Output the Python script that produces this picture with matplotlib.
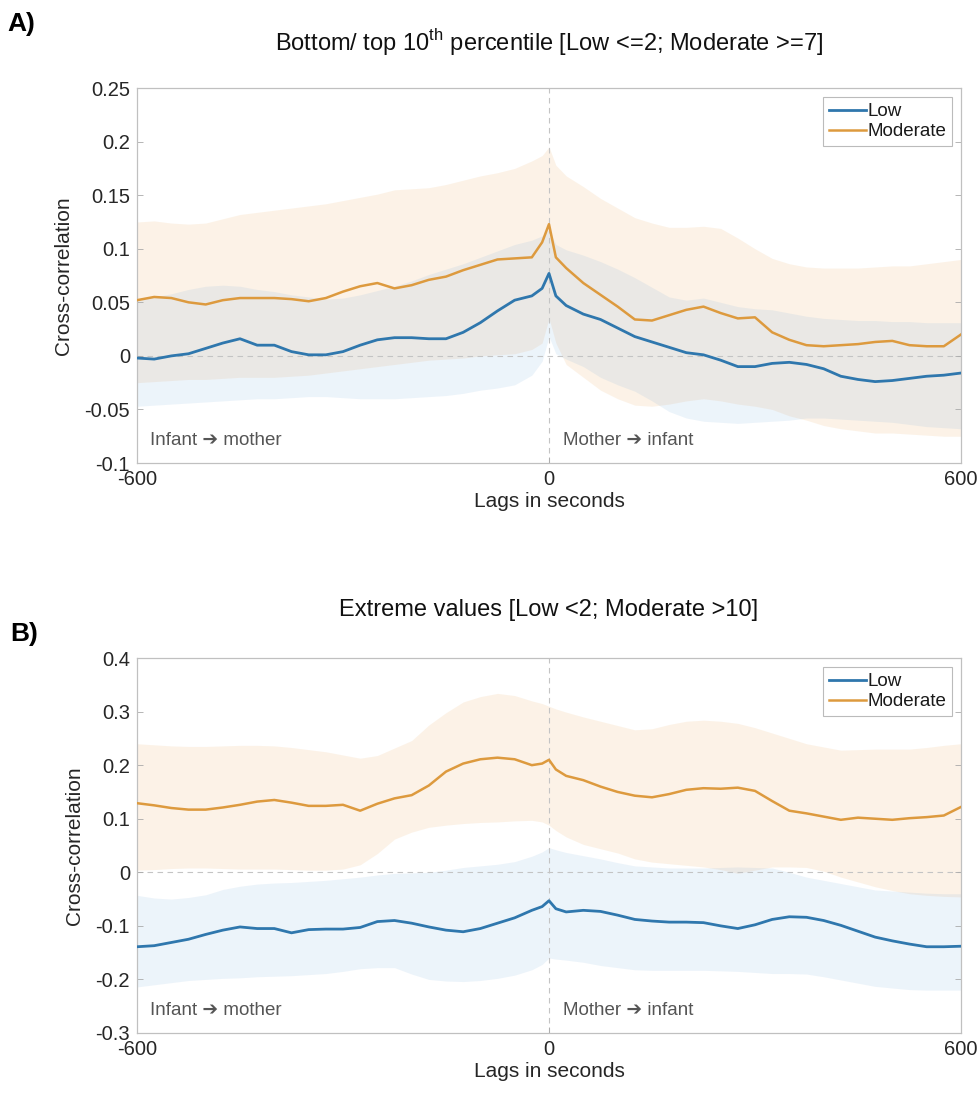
import matplotlib
matplotlib.use("Agg")
import matplotlib.pyplot as plt
import numpy as np

plt.rcParams['font.family'] = ['Liberation Sans', 'DejaVu Sans']
plt.rcParams['mathtext.fontset'] = 'custom'
plt.rcParams['mathtext.rm'] = 'Liberation Sans'

# ---------------- data ----------------
lags = [-600, -575, -550, -525, -500, -475, -450, -425, -400, -375, -350, -325, -300,
        -275, -250, -225, -200, -175, -150, -125, -100, -75, -50, -25, -10, 0, 10, 25,
        50, 75, 100, 125, 150, 175, 200, 225, 250, 275, 300, 325, 350, 375, 400, 425,
        450, 475, 500, 525, 550, 575, 600]

# Panel A
a_low_mean = [-0.002, -0.003, 0.000, 0.002, 0.007, 0.012, 0.016, 0.010, 0.010, 0.004, 0.001,
              0.001, 0.004, 0.010, 0.015, 0.017, 0.017, 0.016, 0.016, 0.022, 0.031, 0.042,
              0.052, 0.056, 0.063, 0.077, 0.056, 0.047, 0.039, 0.034, 0.026, 0.018, 0.013,
              0.008, 0.003, 0.001, -0.004, -0.010, -0.010, -0.007, -0.006, -0.008, -0.012,
              -0.019, -0.022, -0.024, -0.023, -0.021, -0.019, -0.018, -0.016]
a_low_hi = [0.052, 0.055, 0.058, 0.062, 0.065, 0.066, 0.065, 0.062, 0.060, 0.057, 0.055, 0.053,
            0.054, 0.057, 0.061, 0.065, 0.070, 0.076, 0.081, 0.086, 0.092, 0.098, 0.104, 0.108,
            0.112, 0.118, 0.104, 0.099, 0.094, 0.088, 0.081, 0.073, 0.064, 0.055, 0.052, 0.054,
            0.050, 0.046, 0.044, 0.043, 0.040, 0.037, 0.035, 0.034, 0.033, 0.033, 0.032, 0.032,
            0.031, 0.031, 0.031]
a_low_lo = [-0.047, -0.046, -0.045, -0.044, -0.043, -0.042, -0.041, -0.040, -0.040, -0.039,
            -0.038, -0.038, -0.039, -0.040, -0.040, -0.040, -0.039, -0.038, -0.037, -0.035,
            -0.032, -0.030, -0.027, -0.018, -0.005, 0.018, 0.002, -0.003, -0.010, -0.020,
            -0.027, -0.033, -0.042, -0.052, -0.058, -0.061, -0.062, -0.063, -0.062, -0.061,
            -0.060, -0.058, -0.058, -0.059, -0.060, -0.061, -0.062, -0.064, -0.066, -0.067,
            -0.068]
a_mod_mean = [0.052, 0.055, 0.054, 0.050, 0.048, 0.052, 0.054, 0.054, 0.054, 0.053, 0.051,
              0.054, 0.060, 0.065, 0.068, 0.063, 0.066, 0.071, 0.074, 0.080, 0.085, 0.090,
              0.091, 0.092, 0.106, 0.123, 0.092, 0.082, 0.068, 0.057, 0.046, 0.034, 0.033,
              0.038, 0.043, 0.046, 0.040, 0.035, 0.036, 0.022, 0.015, 0.010, 0.009, 0.010,
              0.011, 0.013, 0.014, 0.010, 0.009, 0.009, 0.020]
a_mod_hi = [0.125, 0.126, 0.124, 0.123, 0.124, 0.128, 0.132, 0.134, 0.136, 0.138, 0.140, 0.142,
            0.145, 0.148, 0.151, 0.155, 0.156, 0.157, 0.160, 0.164, 0.168, 0.171, 0.175, 0.182,
            0.187, 0.195, 0.178, 0.168, 0.158, 0.147, 0.138, 0.129, 0.124, 0.120, 0.120, 0.121,
            0.119, 0.110, 0.100, 0.091, 0.086, 0.083, 0.082, 0.082, 0.082, 0.083, 0.084, 0.084,
            0.086, 0.088, 0.090]
a_mod_lo = [-0.025, -0.024, -0.023, -0.022, -0.022, -0.021, -0.020, -0.020, -0.020, -0.019,
            -0.018, -0.016, -0.014, -0.012, -0.010, -0.008, -0.006, -0.004, -0.003, -0.002,
            0.000, 0.001, 0.002, 0.006, 0.012, 0.035, 0.012, -0.008, -0.020, -0.032, -0.040,
            -0.046, -0.047, -0.045, -0.042, -0.040, -0.042, -0.045, -0.047, -0.050, -0.056,
            -0.060, -0.065, -0.068, -0.070, -0.072, -0.072, -0.073, -0.074, -0.075, -0.075]

# Panel B
b_low_mean = [-0.139, -0.137, -0.131, -0.125, -0.116, -0.108, -0.102, -0.105, -0.105, -0.113,
              -0.107, -0.106, -0.106, -0.103, -0.092, -0.090, -0.095, -0.102, -0.108, -0.111,
              -0.105, -0.095, -0.085, -0.071, -0.064, -0.053, -0.068, -0.074, -0.071, -0.073,
              -0.080, -0.088, -0.091, -0.093, -0.093, -0.094, -0.100, -0.105, -0.098, -0.088,
              -0.083, -0.084, -0.090, -0.099, -0.110, -0.121, -0.128, -0.134, -0.139, -0.139,
              -0.138]
b_low_hi = [-0.043, -0.048, -0.050, -0.047, -0.042, -0.032, -0.026, -0.022, -0.020, -0.019,
            -0.017, -0.015, -0.012, -0.009, -0.005, -0.002, -0.001, 0.000, 0.004, 0.009, 0.012,
            0.015, 0.020, 0.030, 0.038, 0.046, 0.042, 0.037, 0.031, 0.025, 0.018, 0.012, 0.010,
            0.008, 0.008, 0.008, 0.009, 0.010, 0.009, 0.008, 0.000, -0.009, -0.015, -0.021,
            -0.027, -0.033, -0.035, -0.037, -0.039, -0.040, -0.040]
b_low_lo = [-0.214, -0.210, -0.206, -0.202, -0.200, -0.198, -0.197, -0.195, -0.194, -0.193,
            -0.191, -0.189, -0.185, -0.180, -0.178, -0.178, -0.190, -0.200, -0.203, -0.204,
            -0.202, -0.198, -0.192, -0.182, -0.172, -0.160, -0.162, -0.164, -0.168, -0.174,
            -0.178, -0.182, -0.183, -0.183, -0.183, -0.183, -0.184, -0.185, -0.187, -0.189,
            -0.189, -0.190, -0.195, -0.201, -0.207, -0.213, -0.216, -0.219, -0.220, -0.220,
            -0.220]
b_mod_mean = [0.129, 0.125, 0.120, 0.117, 0.117, 0.121, 0.126, 0.132, 0.135, 0.130, 0.124,
              0.124, 0.126, 0.115, 0.128, 0.138, 0.144, 0.162, 0.188, 0.203, 0.211, 0.214,
              0.211, 0.200, 0.203, 0.210, 0.192, 0.180, 0.172, 0.160, 0.150, 0.143, 0.140,
              0.146, 0.154, 0.157, 0.156, 0.158, 0.152, 0.133, 0.115, 0.110, 0.104, 0.098,
              0.102, 0.100, 0.098, 0.101, 0.103, 0.106, 0.122]
b_mod_hi = [0.240, 0.238, 0.236, 0.235, 0.235, 0.236, 0.237, 0.237, 0.236, 0.233, 0.229, 0.225,
            0.219, 0.213, 0.218, 0.232, 0.246, 0.275, 0.298, 0.318, 0.328, 0.334, 0.330, 0.320,
            0.315, 0.310, 0.305, 0.299, 0.290, 0.282, 0.274, 0.266, 0.268, 0.276, 0.282, 0.284,
            0.282, 0.278, 0.270, 0.260, 0.250, 0.240, 0.234, 0.228, 0.229, 0.230, 0.230, 0.230,
            0.233, 0.237, 0.240]
b_mod_lo = [0.004, 0.005, 0.007, 0.008, 0.008, 0.007, 0.006, 0.006, 0.006, 0.005, 0.004, 0.004,
            0.006, 0.014, 0.035, 0.062, 0.075, 0.084, 0.088, 0.091, 0.093, 0.094, 0.096, 0.097,
            0.094, 0.088, 0.078, 0.066, 0.052, 0.044, 0.036, 0.025, 0.019, 0.016, 0.013, 0.010,
            0.005, -0.002, 0.004, 0.010, 0.010, 0.009, 0.002, -0.009, -0.018, -0.027, -0.034,
            -0.040, -0.043, -0.045, -0.046]

series_names = ["Low", "Moderate"]
titles = ["Bottom/ top 10$^{\\mathrm{th}}$ percentile [Low <=2; Moderate >=7]",
          "Extreme values [Low <2; Moderate >10]"]
panel_labels = ["A)", "B)"]
ylims = [(-0.1, 0.25), (-0.3, 0.4)]
yticks = [[-0.1, -0.05, 0, 0.05, 0.1, 0.15, 0.2, 0.25],
          [-0.3, -0.2, -0.1, 0, 0.1, 0.2, 0.3, 0.4]]
ytick_labels = [["-0.1", "-0.05", "0", "0.05", "0.1", "0.15", "0.2", "0.25"],
                ["-0.3", "-0.2", "-0.1", "0", "0.1", "0.2", "0.3", "0.4"]]
xticks = [-600, 0, 600]
xtick_labels = ["-600", "0", "600"]
direction_labels = ["Infant \u2794 mother", "Mother \u2794 infant"]

panels = [
    (a_low_mean, a_low_lo, a_low_hi, a_mod_mean, a_mod_lo, a_mod_hi),
    (b_low_mean, b_low_lo, b_low_hi, b_mod_mean, b_mod_lo, b_mod_hi),
]

# ---------------- style ----------------
blue_line = '#2f77ad'
orange_line = '#dd9a3e'
blue_fill = '#6aa6da'
orange_fill = '#eaa85a'
text_gray = '#262626'
spine_gray = '#c0c0c0'

fig = plt.figure(figsize=(9.8, 10.98), dpi=100)
axes_pos = [[0.1398, 0.5783, 0.8408, 0.3415], [0.1398, 0.0592, 0.8408, 0.3415]]
label_pos = [(0.008, 0.978), (0.010, 0.423)]
title_pads = [27, 30]

x = np.array(lags)
for i, (lm, ll, lh, mm, ml, mh) in enumerate(panels):
    ax = fig.add_axes(axes_pos[i])
    ax.fill_between(x, ml, mh, color=orange_fill, alpha=0.14, linewidth=0)
    ax.fill_between(x, ll, lh, color=blue_fill, alpha=0.12, linewidth=0)
    ax.axhline(0, color='#c4c4c4', lw=0.8, ls=(0, (5, 4)), zorder=1)
    ax.axvline(0, color='#c4c4c4', lw=0.8, ls=(0, (5, 4)), zorder=1)
    ax.plot(x, lm, color=blue_line, lw=2.0, label=series_names[0], zorder=3)
    ax.plot(x, mm, color=orange_line, lw=1.8, label=series_names[1], zorder=3)
    ax.set_xlim(-600, 600)
    ax.set_ylim(*ylims[i])
    ax.set_xticks(xticks)
    ax.set_xticklabels(xtick_labels)
    ax.set_yticks(yticks[i])
    ax.set_yticklabels(ytick_labels[i])
    ax.tick_params(direction='in', length=4, width=0.6, color='#aaaaaa',
                   labelsize=14.5, labelcolor=text_gray, top=False, right=True, pad=5)
    for s in ax.spines.values():
        s.set_color(spine_gray)
        s.set_linewidth(0.9)
    ax.set_xlabel("Lags in seconds", fontsize=15, color=text_gray, labelpad=2)
    ax.set_ylabel("Cross-correlation", fontsize=15, color=text_gray, labelpad=8)
    ax.set_title(titles[i], fontsize=17, color='#111111', pad=title_pads[i])
    ax.text(0.016, 0.06, direction_labels[0], transform=ax.transAxes, fontsize=13.5,
            color='#555555', ha='left', va='center')
    ax.text(0.517, 0.06, direction_labels[1], transform=ax.transAxes, fontsize=13.5,
            color='#555555', ha='left', va='center')
    leg = ax.legend(loc='upper right', fontsize=13.5, frameon=True, fancybox=False,
                    handlelength=2.0, handletextpad=0.05, borderpad=0.3, labelspacing=0.15,
                    borderaxespad=0.5)
    leg.get_frame().set_edgecolor('#aaaaaa')
    leg.get_frame().set_linewidth(0.8)
    for t in leg.get_texts():
        t.set_color('#1a1a1a')
    fig.text(label_pos[i][0], label_pos[i][1], panel_labels[i], fontsize=19,
             fontweight='bold', color='black', ha='left', va='center')

fig.savefig("out.png", dpi=100)
